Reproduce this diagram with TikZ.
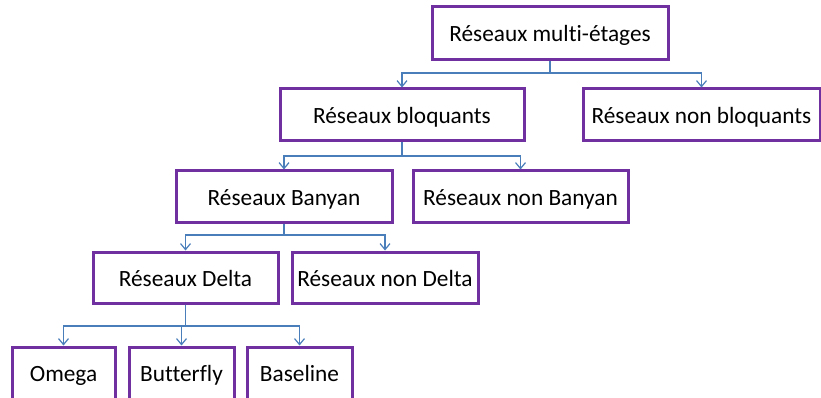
\documentclass[tikz,border=0pt]{standalone}
\usepackage{fontspec}
\setmainfont{Carlito}[Ligatures=NoCommon]
\usetikzlibrary{arrows.meta}
\definecolor{boxpurple}{HTML}{7030A0}
\definecolor{linkblue}{HTML}{4A7EBB}
\begin{document}
\begin{tikzpicture}[x=1pt,y=-1pt,
  box/.style={draw=boxpurple,line width=3pt,fill=white,inner sep=0pt,
    text height=19pt,text depth=2pt,
    font=\fontsize{23.3}{26}\selectfont,text=black},
  conn/.style={draw=linkblue,line width=1.3pt,-{Straight Barb[length=6pt,width=10pt,line width=1.2pt]}}]
\useasboundingbox (0,0) rectangle (821,398);
\clip (0,0) rectangle (821,398);
\node[box,minimum width=236pt,minimum height=53pt] (top) at (550,33.5) {Réseaux multi-étages};
\node[box,minimum width=244pt,minimum height=52pt] (bloq) at (402,115) {Réseaux bloquants};
\node[box,minimum width=237pt,minimum height=52pt] (nbloq) at (701.5,115) {Réseaux non bloquants};
\node[box,minimum width=216pt,minimum height=51pt] (ban) at (284,196.5) {Réseaux Banyan};
\node[box,minimum width=215pt,minimum height=51pt] (nban) at (520.5,196.5) {Réseaux non Banyan};
\node[box,minimum width=185pt,minimum height=51pt] (del) at (185.5,277.5) {Réseaux Delta};
\node[box,minimum width=186pt,minimum height=51pt] (ndel) at (385,277.5) {Réseaux non Delta};
\node[box,minimum width=103pt,minimum height=52pt] (ome) at (63.5,373) {Omega};
\node[box,minimum width=105pt,minimum height=52pt] (but) at (181.5,373) {Butterfly};
\node[box,minimum width=105pt,minimum height=52pt] (bas) at (299.5,373) {Baseline};
\coordinate (j1) at (0,73);
\coordinate (j2) at (0,156);
\coordinate (j3) at (0,235);
\coordinate (j4) at (0,326);
\draw[conn] (top.south) -- (top.south |- j1) -| (bloq.north);
\draw[conn] (top.south) -- (top.south |- j1) -| (nbloq.north);
\draw[conn] (bloq.south) -- (bloq.south |- j2) -| (ban.north);
\draw[conn] (bloq.south) -- (bloq.south |- j2) -| (nban.north);
\draw[conn] (ban.south) -- (ban.south |- j3) -| (del.north);
\draw[conn] (ban.south) -- (ban.south |- j3) -| (ndel.north);
\draw[conn] (del.south) -- (del.south |- j4) -| (ome.north);
\draw[conn] (del.south) -- (del.south |- j4) -| (but.north);
\draw[conn] (del.south) -- (del.south |- j4) -| (bas.north);
\end{tikzpicture}
\end{document}
